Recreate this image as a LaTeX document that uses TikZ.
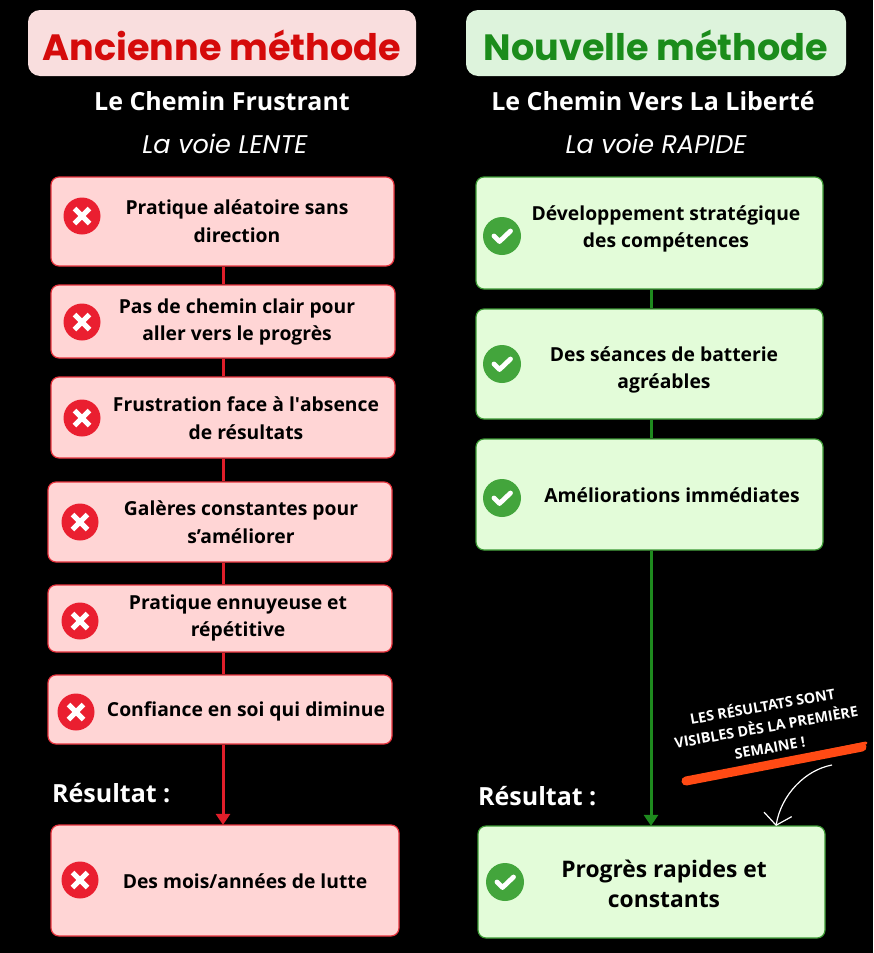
\documentclass[tikz,border=0pt]{standalone}
\usepackage{fontspec}
\setmainfont{Open Sans}
\newfontfamily\popfont{Poppins}
\usetikzlibrary{arrows.meta,calc}
\definecolor{tpink}{HTML}{F9DEDE}
\definecolor{tred}{HTML}{D50B0B}
\definecolor{tgreenbg}{HTML}{DDF3DC}
\definecolor{tgreen}{HTML}{1B8C1B}
\definecolor{lfill}{HTML}{FFD5D5}
\definecolor{lborder}{HTML}{E8343E}
\definecolor{rfill}{HTML}{E3FCD9}
\definecolor{rborder}{HTML}{3D9B35}
\definecolor{redline}{HTML}{E01E2A}
\definecolor{greenline}{HTML}{1E8A1E}
\definecolor{iconred}{HTML}{EA1F30}
\definecolor{icongreen}{HTML}{43A53C}
\definecolor{brushcol}{HTML}{FF4A14}
\begin{document}
\begin{tikzpicture}[x=1pt,y=-1pt,
  titlebox/.style={rounded corners=12pt, minimum width=#1, minimum height=66pt, inner sep=0pt},
  lbox/.style={draw=lborder, fill=lfill, line width=1.2pt, rounded corners=8pt, inner sep=0pt},
  rbox/.style={draw=rborder, fill=rfill, line width=1.2pt, rounded corners=8pt, inner sep=0pt},
  btxt/.style={align=center, font=\bfseries\fontsize{19.3}{27.5}\selectfont, text=black, inner sep=0pt},
  head/.style={text=white, font=\bfseries\fontsize{25}{30}\selectfont, inner sep=0pt},
  sub/.style={text=white, font=\popfont\itshape\fontsize{25.5}{30}\selectfont, inner sep=0pt},
  redconn/.style={draw=redline, line width=3pt},
  greenconn/.style={draw=greenline, line width=3pt},
  crossicon/.pic={
    \fill[iconred] (0,0) circle (18.5);
    \draw[white, line width=5pt] (-7.5,-7.5) -- (7.5,7.5) (-7.5,7.5) -- (7.5,-7.5);
  },
  checkicon/.pic={
    \fill[icongreen] (0,0) circle (19);
    \draw[white, line width=4.8pt, line cap=round, line join=round] (-8,0) -- (-2.5,5.5) -- (8.5,-5);
  }
]
\fill[black] (0,0) rectangle (873,953);

% Titles
\node[titlebox=388pt, fill=tpink] (tl) at (222,43) {};
\node[text=tred, font=\popfont\bfseries\fontsize{36.6}{40}\selectfont] (tlt) at (222,45) {Ancienne méthode};
\node[titlebox=380pt, fill=tgreenbg] (tr) at (656,43) {};
\node[text=tgreen, font=\popfont\bfseries\fontsize{36.6}{40}\selectfont] (trt) at (656,45) {Nouvelle méthode};

\node[head] (hl) at (222,101) {Le Chemin Frustrant};
\node[sub] (sl) at (225,144) {La voie LENTE};
\node[head] (hr) at (653,101) {Le Chemin Vers La Liberté};
\node[sub] (sr) at (656,144) {La voie RAPIDE};

% spine coordinates
\coordinate (ls) at (223,0);
\coordinate (rs) at (651,0);

% Left boxes
\node[lbox, minimum width=343pt, minimum height=89pt] (l1) at (222.5,221.5) {};
\node[lbox, minimum width=344pt, minimum height=73pt] (l2) at (223,321.5) {};
\node[lbox, minimum width=344pt, minimum height=81pt] (l3) at (223,417.5) {};
\node[lbox, minimum width=344pt, minimum height=80pt] (l4) at (220,522) {};
\node[lbox, minimum width=344pt, minimum height=67pt] (l5) at (220,618.5) {};
\node[lbox, minimum width=344pt, minimum height=69pt] (l6) at (220,709.5) {};
\node[lbox, minimum width=348pt, minimum height=111pt] (lr) at (225,880.5) {};

% Left connectors
\draw[redconn] (l1.south -| ls) -- (l2.north -| ls);
\draw[redconn] (l2.south -| ls) -- (l3.north -| ls);
\draw[redconn] (l3.south -| ls) -- (l4.north -| ls);
\draw[redconn] (l4.south -| ls) -- (l5.north -| ls);
\draw[redconn] (l5.south -| ls) -- (l6.north -| ls);
\draw[redconn, -{Triangle[width=14pt,length=11pt]}] (l6.south -| ls) -- ([yshift=-0.5pt]lr.north -| ls);

% Left texts
\node[btxt] (l1t) at (237,221) {Pratique aléatoire sans\\direction};
\node[btxt] (l2t) at (237,322) {Pas de chemin clair pour\\aller vers le progrès};
\node[btxt] (l3t) at (246,418) {Frustration face à l\textquotesingle absence\\de résultats};
\node[btxt] (l4t) at (241,522) {Galères constantes pour\\s’améliorer};
\node[btxt] (l5t) at (238,618) {Pratique ennuyeuse et\\répétitive};
\node[btxt] (l6t) at (246,711) {Confiance en soi qui diminue};
\node[btxt] (lrt) at (245,881) {Des mois/années de lutte};
\node[head, anchor=west] (resl) at (52,793) {Résultat :};

% Left icons
\pic at (82,216) {crossicon};
\pic at (82,322) {crossicon};
\pic at (82,418) {crossicon};
\pic at (80,522) {crossicon};
\pic at (80,621) {crossicon};
\pic at (76,712) {crossicon};
\pic at (80,880) {crossicon};

% Right boxes
\node[rbox, minimum width=347pt, minimum height=112pt] (r1) at (649.5,233) {};
\node[rbox, minimum width=347pt, minimum height=110pt] (r2) at (649.5,364) {};
\node[rbox, minimum width=347pt, minimum height=111pt] (r3) at (649.5,494.5) {};
\node[rbox, minimum width=347pt, minimum height=112pt] (rr) at (651.5,882) {};

% Right connectors
\draw[greenconn] (r1.south -| rs) -- (r2.north -| rs);
\draw[greenconn] (r2.south -| rs) -- (r3.north -| rs);
\draw[greenconn, -{Triangle[width=14pt,length=11pt]}] (r3.south -| rs) -- ([yshift=-0.5pt]rr.north -| rs);

% Right texts
\node[btxt] (r1t) at (666,229) {Développement stratégique\\des compétences};
\node[btxt] (r2t) at (664,370) {Des séances de batterie\\agréables};
\node[btxt] (r3t) at (672,495) {Améliorations immédiates};
\node[btxt, font=\bfseries\fontsize{22.8}{30}\selectfont] (rrt) at (664,884) {Progrès rapides et\\constants};
\node[head, anchor=west] (resr) at (478,796) {Résultat :};

% Right icons
\pic at (502,236) {checkicon};
\pic at (502,364) {checkicon};
\pic at (502,498) {checkicon};
\pic at (505,882) {checkicon};

% Annotation
\draw[brushcol, line width=9pt, line cap=round] (686,781) -- (862,747);
\draw[brushcol, line width=3pt, line cap=round] (700,777) -- (866,743);
\node[text=white, align=center, rotate=10, font=\bfseries\fontsize{14.3}{21}\selectfont, inner sep=0pt] (note) at (766,726) {LES RÉSULTATS SONT\\VISIBLES DÈS LA PREMIÈRE\\SEMAINE !};
\coordinate (nstart) at (832,765);
\coordinate (ntip) at (776,826);
\draw[white, line width=1.2pt, -{Straight Barb[length=11pt,width=28pt]}] (nstart) .. controls (805,770) and (781,795) .. (ntip);
\end{tikzpicture}
\end{document}
